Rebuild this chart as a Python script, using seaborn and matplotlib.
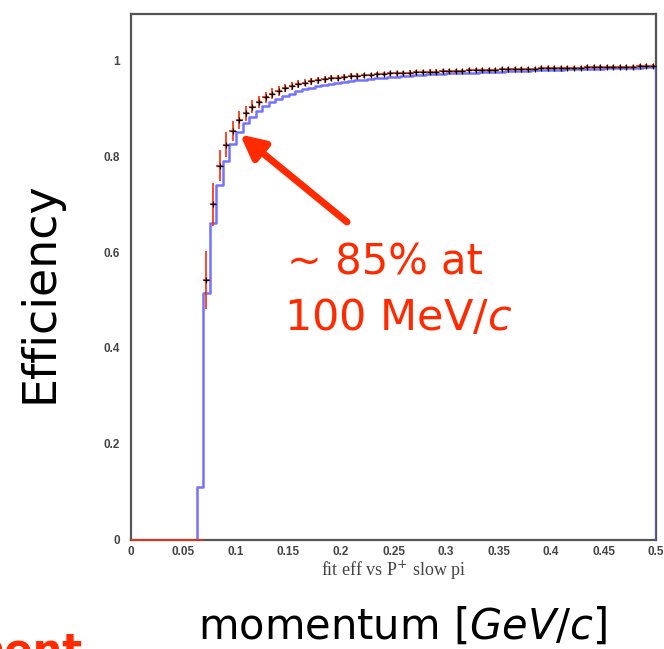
import numpy as np
import pandas as pd
import matplotlib
matplotlib.use("Agg")
import matplotlib.pyplot as plt
from matplotlib.ticker import MultipleLocator
import seaborn as sns


RED = "#ff2a00"
BLUE = "#5a5aff"
FRAME = "#555555"

# 80 bins of 6.25 MeV/c between 0 and 0.5 GeV/c
BIN_WIDTH = 0.00625
N_BINS = 80

# blue histogram (fit efficiency)
blue_eff = [
    0, 0, 0, 0, 0, 0, 0, 0, 0, 0,
    0.110, 0.515, 0.660, 0.740, 0.790, 0.825, 0.850, 0.868, 0.882, 0.894,
    0.904, 0.912, 0.919, 0.925, 0.930, 0.935, 0.939, 0.942, 0.945, 0.948,
    0.950, 0.952, 0.954, 0.956, 0.958, 0.959, 0.961, 0.962, 0.963, 0.964,
    0.965, 0.966, 0.967, 0.968, 0.969, 0.970, 0.970, 0.971, 0.972, 0.972,
    0.973, 0.974, 0.974, 0.975, 0.975, 0.976, 0.976, 0.977, 0.977, 0.978,
    0.978, 0.979, 0.979, 0.979, 0.980, 0.980, 0.981, 0.981, 0.981, 0.982,
    0.982, 0.982, 0.983, 0.983, 0.983, 0.984, 0.984, 0.984, 0.985, 0.985,
]

# red points with error bars
red_eff = [
    0, 0, 0, 0, 0, 0, 0, 0, 0, 0,
    0, 0.542, 0.699, 0.780, 0.823, 0.853, 0.875, 0.889, 0.903, 0.913,
    0.922, 0.930, 0.936, 0.942, 0.946, 0.950, 0.953, 0.956, 0.958, 0.960,
    0.962, 0.963, 0.965, 0.966, 0.967, 0.968, 0.969, 0.970, 0.971, 0.972,
    0.972, 0.973, 0.974, 0.975, 0.975, 0.976, 0.976, 0.977, 0.977, 0.978,
    0.978, 0.979, 0.979, 0.980, 0.980, 0.980, 0.981, 0.981, 0.981, 0.982,
    0.982, 0.982, 0.983, 0.983, 0.983, 0.984, 0.984, 0.984, 0.984, 0.985,
    0.985, 0.985, 0.985, 0.986, 0.986, 0.986, 0.986, 0.987, 0.987, 0.987,
]

red_err = [
    0, 0, 0, 0, 0, 0, 0, 0, 0, 0,
    0, 0.060, 0.045, 0.032, 0.026, 0.021, 0.018, 0.016, 0.014, 0.013,
    0.012, 0.011, 0.010, 0.009, 0.009, 0.008, 0.008, 0.007, 0.007, 0.007,
    0.006, 0.006, 0.006, 0.006, 0.006, 0.006, 0.005, 0.005, 0.005, 0.005,
    0.005, 0.005, 0.005, 0.005, 0.005, 0.005, 0.005, 0.005, 0.004, 0.004,
    0.004, 0.004, 0.004, 0.004, 0.004, 0.004, 0.004, 0.004, 0.004, 0.004,
    0.004, 0.004, 0.004, 0.004, 0.004, 0.004, 0.004, 0.004, 0.004, 0.004,
    0.004, 0.004, 0.004, 0.004, 0.004, 0.004, 0.004, 0.004, 0.004, 0.004,
]

X_TICKS = [0, 0.05, 0.1, 0.15, 0.2, 0.25, 0.3, 0.35, 0.4, 0.45, 0.5]
X_TICK_LABELS = ["0", "0.05", "0.1", "0.15", "0.2", "0.25", "0.3", "0.35", "0.4", "0.45", "0.5"]
Y_TICKS = [0, 0.2, 0.4, 0.6, 0.8, 1.0]
Y_TICK_LABELS = ["0", "0.2", "0.4", "0.6", "0.8", "1"]


def build_frame():
    centers = (np.arange(N_BINS) + 0.5) * BIN_WIDTH
    df = pd.DataFrame({
        "p": centers,
        "blue": blue_eff,
        "red": red_eff,
        "err": red_err,
    })
    # empty overflow bin so the outline drops back to zero at the right edge
    overflow = pd.DataFrame({"p": [0.5 + BIN_WIDTH / 2], "blue": [0.0], "red": [np.nan], "err": [np.nan]})
    return pd.concat([df, overflow], ignore_index=True)


def plot_efficiency():
    sns.set_style("white")
    plt.rcParams["mathtext.fontset"] = "dejavusans"
    df = build_frame()

    fig = plt.figure(figsize=(6.64, 6.49), dpi=100)
    ax = fig.add_axes([0.1973, 0.168, 0.7907, 0.8105])

    sns.histplot(
        data=df, x="p", weights="blue", binwidth=BIN_WIDTH,
        binrange=(0, (N_BINS + 1) * BIN_WIDTH), element="step", fill=False,
        color=BLUE, linewidth=1.8, alpha=0.85, ax=ax, zorder=3
    )

    pts = df.dropna()
    bars = ax.errorbar(
        pts["p"], pts["red"], yerr=pts["err"], xerr=BIN_WIDTH / 2,
        fmt="none", ecolor=RED, elinewidth=1.2, zorder=4
    )
    for part in bars.lines[2]:
        part.set_clip_on(False)
    nonzero = pts[pts["red"] > 0]
    sns.scatterplot(
        data=nonzero, x="p", y="red", marker="+", color="black", s=14,
        linewidth=0.9, ax=ax, zorder=5
    )

    ax.set_xlim(0, 0.5)
    ax.set_ylim(0, 1.096)
    ax.set_xlabel("")
    ax.set_ylabel("")
    ax.set_xticks(X_TICKS)
    ax.set_xticklabels(X_TICK_LABELS)
    ax.set_yticks(Y_TICKS)
    ax.set_yticklabels(Y_TICK_LABELS)
    ax.xaxis.set_minor_locator(MultipleLocator(0.01))
    ax.yaxis.set_minor_locator(MultipleLocator(0.05))
    ax.tick_params(which="both", direction="in", color=FRAME, width=1.0, top=False, right=False)
    ax.tick_params(which="major", length=6)
    ax.tick_params(which="minor", length=3)
    ax.tick_params(axis="x", pad=4)
    ax.tick_params(axis="y", pad=8)
    for lab in ax.get_xticklabels() + ax.get_yticklabels():
        lab.set_fontfamily("Liberation Sans")
        lab.set_fontweight("bold")
        lab.set_fontsize(8.5)
        lab.set_color("#444444")
    for sp in ax.spines.values():
        sp.set_color(FRAME)
        sp.set_linewidth(1.6)

    ax.annotate(
        "", xy=(0.1038, 0.845), xytext=(0.2057, 0.6625),
        arrowprops=dict(arrowstyle="-|>", color=RED, lw=5, mutation_scale=36, shrinkA=0, shrinkB=0),
        zorder=6
    )

    fig.text(0.432, 0.628, "~ 85% at", color=RED, fontsize=30, ha="left", va="top")
    fig.text(0.428, 0.542, r"100 MeV/$\mathit{c}$", color=RED, fontsize=31, ha="left", va="top")

    fig.text(0.5927, 0.121, r"fit eff vs P$^{+}$ slow pi", fontsize=13, color="#444444",
             family="Liberation Serif", ha="center", va="center")
    fig.text(0.607, 0.034, r"momentum [$\mathit{GeV/c}$]", fontsize=30, color="black",
             ha="center", va="center")
    fig.text(0.06, 0.55, "Efficiency", fontsize=33, color="black", rotation=90,
             ha="center", va="center")
    fig.text(0.125, -0.022, "ment", fontsize=30, color=RED, fontweight="bold",
             ha="right", va="baseline")

    fig.savefig("out.png", dpi=100)


if __name__ == "__main__":
    plot_efficiency()
